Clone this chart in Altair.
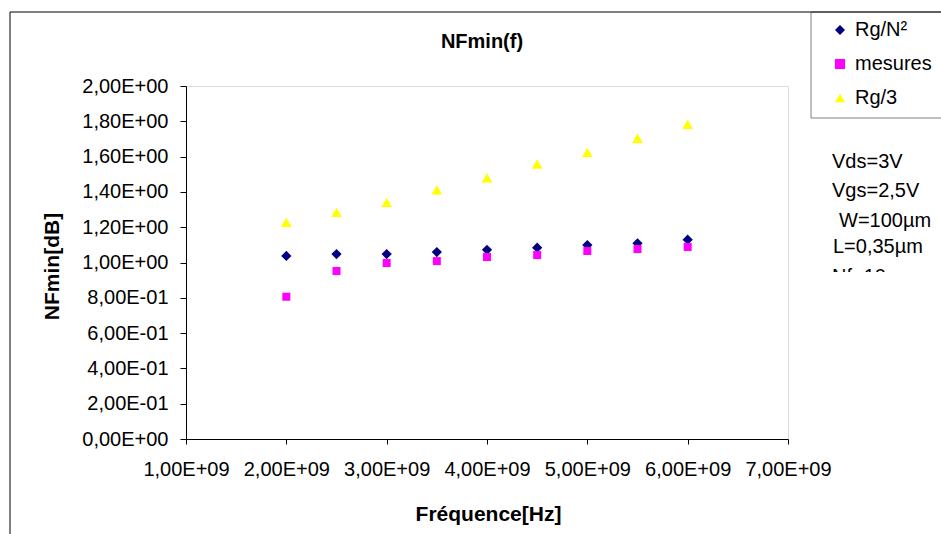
import altair as alt
import pandas as pd

# ---- data ----
frequency_hz = [2.0e9, 2.5e9, 3.0e9, 3.5e9, 4.0e9, 4.5e9, 5.0e9, 5.5e9, 6.0e9]
rg_n2 = [1.037, 1.048, 1.048, 1.059, 1.072, 1.084, 1.099, 1.109, 1.129]
mesures = [0.806, 0.952, 0.997, 1.008, 1.031, 1.042, 1.065, 1.076, 1.088]
rg_3 = [1.228, 1.284, 1.341, 1.411, 1.479, 1.558, 1.624, 1.704, 1.783]

series_names = ["Rg/N²", "mesures", "Rg/3"]
series_colors = ["#000080", "#FF00FF", "#FFFF00"]
series_shapes = ["diamond", "square", "triangle-up"]
series_sizes = [105, 64, 115]

y_tick_values = [0, 0.2, 0.4, 0.6, 0.8, 1.0, 1.2, 1.4, 1.6, 1.8, 2.0]
y_tick_labels = ["0,00E+00", "2,00E-01", "4,00E-01", "6,00E-01", "8,00E-01",
                 "1,00E+00", "1,20E+00", "1,40E+00", "1,60E+00", "1,80E+00", "2,00E+00"]
x_tick_values = [1e9, 2e9, 3e9, 4e9, 5e9, 6e9, 7e9]
x_tick_labels = ["1,00E+09", "2,00E+09", "3,00E+09", "4,00E+09",
                 "5,00E+09", "6,00E+09", "7,00E+09"]

annotation_lines = ["Vds=3V", "Vgs=2,5V", "W=100µm", "L=0,35µm", "Nf=10"]
chart_title = "NFmin(f)"
x_title = "Fréquence[Hz]"
y_title = "NFmin[dB]"

rows = []
for name, vals in zip(series_names, [rg_n2, mesures, rg_3]):
    for f, v in zip(frequency_hz, vals):
        rows.append({"freq": f, "nf": v, "serie": name})
df = pd.DataFrame(rows)

FONT = "Liberation Sans"


def label_expr(values, labels):
    vals = "[" + ",".join(repr(v) for v in values) + "]"
    labs = "[" + ",".join("'" + l + "'" for l in labels) + "]"
    return f"{labs}[indexof({vals}, datum.value)]"


W, H = 602, 353
one = alt.Data(values=[{}])

legend_box = alt.Chart(one).mark_rect(fill="white", stroke="#808080", strokeWidth=1).encode(
    x=alt.value(625), x2=alt.value(800), y=alt.value(-74), y2=alt.value(32)
)
frame = alt.Chart(one).mark_rect(fill="white", fillOpacity=0, stroke="black", strokeWidth=1).encode(
    x=alt.value(-176), x2=alt.value(800), y=alt.value(-74), y2=alt.value(500)
)

legend = alt.Legend(title=None, orient="none", legendX=644, legendY=-66,
                    labelFont=FONT, labelFontSize=20, labelColor="black",
                    labelOffset=5, rowPadding=14, padding=0, symbolStrokeWidth=0,
                    symbolSize=100)

x_enc = alt.X("freq:Q",
              scale=alt.Scale(domain=[1e9, 7e9], nice=False, zero=False),
              axis=alt.Axis(values=x_tick_values,
                            labelExpr=label_expr(x_tick_values, x_tick_labels),
                            title=x_title, titleFont=FONT, titleFontSize=21,
                            titleFontWeight="bold", titleColor="black",
                            titleBaseline="alphabetic", titleY=81, titleX=302,
                            labelFont=FONT, labelFontSize=20, labelColor="black",
                            labelPadding=15, tickSize=5, tickColor="black",
                            domainColor="black", grid=False, labelFlush=False,
                            labelOverlap=False))
y_enc = alt.Y("nf:Q",
              scale=alt.Scale(domain=[0, 2], nice=False),
              axis=alt.Axis(values=y_tick_values,
                            labelExpr=label_expr(y_tick_values, y_tick_labels),
                            title=y_title, titleFont=FONT, titleFontSize=21,
                            titleFontWeight="bold", titleColor="black",
                            titleAngle=270, titleBaseline="alphabetic",
                            titleX=-128, titleY=180,
                            labelFont=FONT, labelFontSize=20, labelColor="black",
                            labelPadding=12, tickSize=6, tickColor="black",
                            domainColor="black", grid=False, labelFlush=False,
                            labelOverlap=False))
color_enc = alt.Color("serie:N", scale=alt.Scale(domain=series_names, range=series_colors),
                      legend=legend)
shape_enc = alt.Shape("serie:N", scale=alt.Scale(domain=series_names, range=series_shapes),
                      legend=legend)

point_layers = [
    alt.Chart(df).transform_filter(alt.datum.serie == name)
    .mark_point(filled=True, opacity=1, strokeWidth=0, size=sz)
    .encode(x=x_enc, y=y_enc, color=color_enc, shape=shape_enc)
    for name, sz in zip(series_names, series_sizes)
]

annot_x = [646, 646, 653, 647, 646]
annot_y = [82, 111, 141, 167, 197]
annotations = [
    alt.Chart(one).mark_text(text=t, font=FONT, fontSize=20, align="left",
                             baseline="alphabetic", color="black").encode(
        x=alt.value(ax), y=alt.value(ay))
    for t, ax, ay in zip(annotation_lines, annot_x, annot_y)
]
cover = alt.Chart(one).mark_rect(fill="white").encode(
    x=alt.value(630), x2=alt.value(760), y=alt.value(186), y2=alt.value(215)
)
title = alt.Chart(one).mark_text(text=chart_title, font=FONT, fontSize=20, fontWeight="bold",
                                 align="center", baseline="alphabetic", color="black").encode(
    x=alt.value(296), y=alt.value(-38)
)

chart = alt.layer(legend_box, frame, *point_layers, *annotations, cover, title).properties(
    width=W, height=H,
    autosize=alt.AutoSizeParams(type="none"),
    padding={"left": 186, "top": 86, "right": 153, "bottom": 95},
    background="white",
).configure_view(stroke="#808080", strokeWidth=1).configure(font=FONT)

chart.save("out.html", embed_options={"renderer": "svg", "actions": False})
